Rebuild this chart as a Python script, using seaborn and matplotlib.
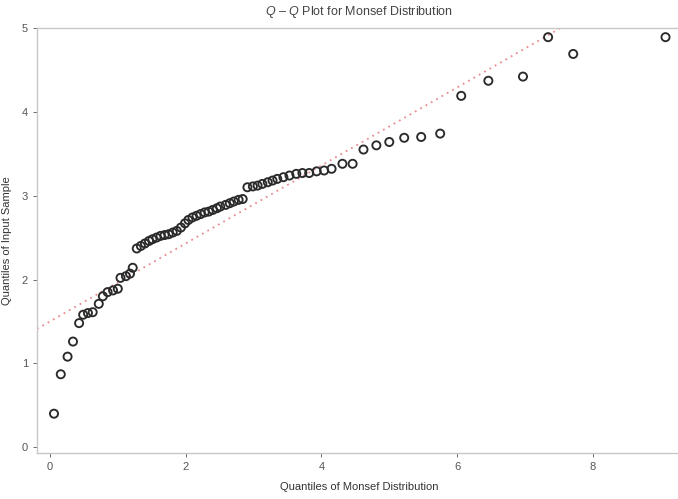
import matplotlib
matplotlib.use("Agg")
import matplotlib.pyplot as plt
import seaborn as sns
import pandas as pd

# Theoretical quantiles of the Monsef distribution (x) and sample quantiles (y)
theoretical_q = [
    0.06, 0.16, 0.26, 0.34, 0.43, 0.49, 0.56, 0.63, 0.72, 0.78, 0.85, 0.93, 1.00,
    1.04, 1.12, 1.18, 1.22,
    1.28, 1.34, 1.40, 1.46, 1.51, 1.57, 1.63, 1.69, 1.75, 1.81, 1.87, 1.93, 1.99,
    2.04, 2.10, 2.16, 2.22, 2.28, 2.34, 2.40, 2.46, 2.51, 2.59, 2.65, 2.71, 2.78, 2.84,
    2.91, 2.99, 3.06, 3.13, 3.21, 3.28, 3.35, 3.44, 3.53, 3.63, 3.72, 3.82, 3.93,
    4.04, 4.15,
    4.31, 4.46, 4.62, 4.81, 5.00, 5.22, 5.47, 5.75,
    6.06, 6.46, 6.97, 7.34, 7.71, 9.07,
]
sample_q = [
    0.40, 0.87, 1.08, 1.26, 1.48, 1.58, 1.60, 1.61, 1.71, 1.80, 1.85, 1.87, 1.89,
    2.02, 2.04, 2.07, 2.14,
    2.37, 2.40, 2.43, 2.46, 2.48, 2.50, 2.52, 2.53, 2.54, 2.56, 2.58, 2.62, 2.67,
    2.71, 2.74, 2.76, 2.78, 2.80, 2.81, 2.83, 2.85, 2.87, 2.89, 2.91, 2.93, 2.95, 2.96,
    3.10, 3.11, 3.12, 3.14, 3.16, 3.18, 3.20, 3.22, 3.24, 3.26, 3.27, 3.27, 3.29,
    3.30, 3.32,
    3.38, 3.38, 3.55, 3.60, 3.64, 3.69, 3.70, 3.74,
    4.19, 4.37, 4.42, 4.89, 4.69, 4.89,
]
ref_intercept = 1.50
ref_slope = 0.465

x_ticks = [0, 2, 4, 6, 8]
y_ticks = [0, 1, 2, 3, 4, 5]

title = r"$Q$ – $Q$ Plot for Monsef Distribution"
xlabel = "Quantiles of Monsef Distribution"
ylabel = "Quantiles of Input Sample"

sns.set_theme(style="white")
plt.rcParams["font.family"] = ["Liberation Sans", "DejaVu Sans"]
plt.rcParams["mathtext.fontset"] = "custom"
plt.rcParams["mathtext.it"] = "Liberation Sans:italic"
plt.rcParams["mathtext.rm"] = "Liberation Sans"

fig = plt.figure(figsize=(6.78, 4.99), dpi=100)
ax = fig.add_axes([0.0546, 0.092, 0.95, 0.852])

df = pd.DataFrame({"x": theoretical_q, "y": sample_q})
ax.axline((0, ref_intercept), slope=ref_slope, color="#ec8a8c",
          linestyle=(0, (1, 2.4)), linewidth=1.3, zorder=1)
sns.scatterplot(data=df, x="x", y="y", ax=ax, marker="o", s=34,
                facecolor="none", edgecolor="#2a2a2a", linewidth=1.35, zorder=3)

ax.set_xlim(-0.19, 9.3)
ax.set_ylim(-0.07, 5.0)
ax.set_xticks(x_ticks)
ax.set_yticks(y_ticks)
ax.tick_params(axis="both", labelsize=8, colors="#555555", length=3, width=0.6,
               direction="out", bottom=True, left=True)
ax.set_xlabel(xlabel, fontsize=8, color="#333333", labelpad=7)
ax.set_ylabel(ylabel, fontsize=8, color="#333333", labelpad=7)
ax.set_title(title, fontsize=9, color="#444444", pad=9)

for side in ["left", "bottom", "top"]:
    ax.spines[side].set_visible(True)
    ax.spines[side].set_color("#c8c8c8")
    ax.spines[side].set_linewidth(1.0)
ax.spines["right"].set_visible(False)

fig.savefig("out.png", dpi=100)
